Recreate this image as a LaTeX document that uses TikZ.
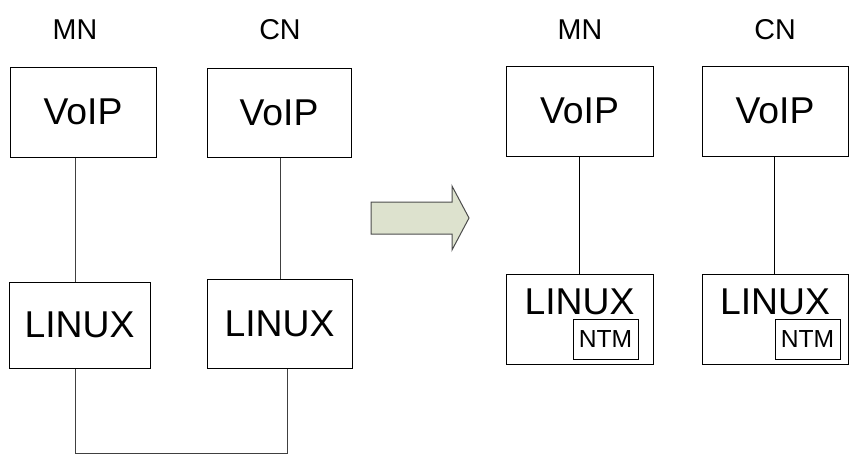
\documentclass[tikz,border=0pt]{standalone}
\usepackage{fontspec}
\setmainfont{Liberation Sans}
\usepackage{tikz}
\definecolor{arrowfill}{RGB}{221,226,206}

\begin{document}
\begin{tikzpicture}[x=0.75pt,y=-0.75pt,
        box/.style={draw, line width=0.75pt, inner sep=0pt, font=\fontsize{28}{30}\selectfont},
        ntmbox/.style={draw, line width=0.75pt, inner sep=0pt, minimum width=48.75pt, minimum height=30pt, font=\fontsize{18.5}{20}\selectfont},
        host/.style={inner sep=0pt, font=\fontsize{21.5}{23}\selectfont},
        link/.style={draw=black!75, line width=0.75pt}]
        \useasboundingbox (0,0) rectangle (849,461);
        % before
        \node (mn1) [host] at (75,30) {MN};
        \node (cn1) [host] at (280,30) {CN};
        \node (mnvoip1) [box, minimum width=109.5pt, minimum height=67.5pt] at (83,112) {VoIP};
        \node (cnvoip1) [box, minimum width=108pt, minimum height=66.75pt] at (279,112.5) {VoIP};
        \node (mnlinux1) [box, minimum width=105.75pt, minimum height=64.5pt] at (79.5,325) {LINUX};
        \node (cnlinux1) [box, minimum width=108.75pt, minimum height=66.75pt] at (279.5,323.5) {LINUX};
        \coordinate (join1) at (287,453);
        \draw [link] (mn1 |- mnvoip1.south) -- (mn1 |- mnlinux1.north);
        \draw [link] (cn1 |- cnvoip1.south) -- (cn1 |- cnlinux1.north);
        \draw [link] (mn1 |- mnlinux1.south) |- (join1) -- (join1 |- cnlinux1.south);
        % step arrow
        \fill [arrowfill, draw=black!70, line width=0.75pt]
                (371,202) -- (452,202) -- (452,186) -- (469,218) -- (452,250) -- (452,234) -- (371,234) -- cycle;
        % after
        \node (mn2) [host] at (580,30) {MN};
        \node (cn2) [host] at (775,30) {CN};
        \node (mnvoip2) [box, minimum width=110.25pt, minimum height=67.5pt] at (579.5,111) {VoIP};
        \node (cnvoip2) [box, minimum width=109.5pt, minimum height=67.5pt] at (775,111) {VoIP};
        \node (mnlinux2) [box, minimum width=110.25pt, minimum height=67.5pt] at (579.5,319) {};
        \node (cnlinux2) [box, minimum width=109.5pt, minimum height=67.5pt] at (775,319) {};
        \node (mnos2) [inner sep=0pt, font=\fontsize{28}{30}\selectfont] at (579.5,302) {LINUX};
        \node (cnos2) [inner sep=0pt, font=\fontsize{28}{30}\selectfont] at (775,302) {LINUX};
        \node (mnntm) [ntmbox] at (605.5,339) {NTM};
        \node (cnntm) [ntmbox] at (807.5,339) {NTM};
        \draw [link, draw=black] (579,0 |- mnvoip2.south) -- (579,0 |- mnlinux2.north);
        \draw [link, draw=black] (774,0 |- cnvoip2.south) -- (774,0 |- cnlinux2.north);
\end{tikzpicture}
\end{document}
